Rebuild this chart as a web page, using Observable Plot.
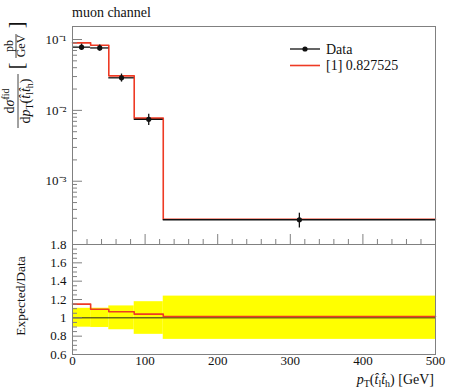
<!DOCTYPE html>
<html><head><meta charset="utf-8">
<script src="https://cdn.jsdelivr.net/npm/d3@7"></script>
<script src="https://cdn.jsdelivr.net/npm/@observablehq/plot@0.6"></script>
<style>
body{margin:0;background:#fff}
#fig{position:relative;width:450px;height:390px;font-family:"Liberation Serif",serif}
#fig svg{position:absolute;left:0;top:0}
#fig svg text{font-family:"Liberation Serif",serif}
</style>
</head><body><div id="fig"></div>
<script>
// ---- data ----
const binEdges = [0, 25, 50, 85, 125, 500];
const dataVals = [0.078, 0.076, 0.0288, 0.00747, 0.000286];
const dataErrUp = [0.104, 0.105, 0.13, 0.176, 0.237];   // relative
const dataErrDn = [0.102, 0.105, 0.13, 0.18, 0.235];    // relative
const mcVals = [0.0897, 0.0831, 0.0307, 0.00777, 0.00029];
const yTicksMain = [1e-3, 1e-2, 1e-1];
const xTicks = [0, 100, 200, 300, 400, 500];
const ratioTicks = [0.6, 0.8, 1, 1.2, 1.4, 1.6, 1.8];
const titleText = "muon channel";
const legendLabels = ["Data", "[1] 0.827525"];
const ratioLabel = "Expected/Data";

const RED = "#ee3a24";
const FRAME = "#808080";
const FONT = "Liberation Serif, serif";
const W = 450, H = 390;

const bins = binEdges.slice(0, -1).map((lo, i) => ({
  lo, hi: binEdges[i + 1], mid: (lo + binEdges[i + 1]) / 2,
  data: dataVals[i], mc: mcVals[i],
  up: dataVals[i] * (1 + dataErrUp[i]), dn: dataVals[i] * (1 - dataErrDn[i]),
  ratio: mcVals[i] / dataVals[i],
  bandLo: 1 - dataErrDn[i], bandHi: 1 + dataErrUp[i]
}));
const stepMC = bins.flatMap(b => [{x: b.lo, y: b.mc}, {x: b.hi, y: b.mc}]);
const stepRatio = bins.flatMap(b => [{x: b.lo, y: b.ratio}, {x: b.hi, y: b.ratio}]);

const minorX = d3.range(0, 501, 20).filter(v => v % 100 !== 0);
const minorLog = [];
for (let e = -4; e <= -1; e++) for (let m = 2; m <= 9; m++) minorLog.push(m * Math.pow(10, e));
const minorRatio = d3.range(0.6, 1.8001, 0.05).map(v => +v.toFixed(2)).filter(v => Math.abs(v * 5 - Math.round(v * 5)) > 1e-6);

const sup = {"-": "⁻", "0": "⁰", "1": "¹", "2": "²", "3": "³", "4": "⁴"};
const logFmt = v => "10" + String(Math.round(Math.log10(v))).split("").map(c => sup[c]).join("");
const yDomain = [Math.pow(10, -3.893), Math.pow(10, -0.8165)];

const common = {
  width: W, height: H, marginLeft: 72, marginRight: 15,
  style: {background: "none", fontFamily: FONT, fontSize: "13px", color: "#111", overflow: "visible"}
};

const ratioPlot = Plot.plot({
  ...common,
  marginTop: 244, marginBottom: 36,
  x: {domain: [0, 500], axis: null},
  y: {domain: [0.6, 1.8], axis: null},
  marks: [
    Plot.rect(bins, {x1: "lo", x2: "hi", y1: "bandLo", y2: "bandHi", fill: "#ffff00"}),
    Plot.ruleY([1], {stroke: "#222", strokeWidth: 1}),
    Plot.line(stepRatio, {x: "x", y: "y", stroke: RED, strokeWidth: 1.6}),
    Plot.axisY(ratioTicks, {anchor: "left", tickSize: -10, tickFormat: () => "", stroke: FRAME}),
    Plot.axisY(minorRatio, {anchor: "left", tickSize: -5, tickFormat: () => "", stroke: FRAME}),
    Plot.axisY(ratioTicks, {anchor: "left", tickSize: 0, tickPadding: 6, tickFormat: d => String(d), fontSize: 13, fontFamily: FONT}),
    Plot.axisX(xTicks, {anchor: "bottom", tickSize: 0, tickPadding: 1, tickFormat: d => String(d), fontSize: 13, fontFamily: FONT}),
    Plot.frame({stroke: FRAME})
  ]
});

const mainPlot = Plot.plot({
  ...common,
  marginTop: 26, marginBottom: H - 244,
  x: {domain: [0, 500], axis: null},
  y: {type: "log", domain: yDomain, axis: null},
  marks: [
    Plot.line(stepMC, {x: "x", y: "y", stroke: RED, strokeWidth: 1.6}),
    Plot.ruleY(bins, {y: "data", x1: "lo", x2: "hi", stroke: "#111", strokeWidth: 1.3}),
    Plot.ruleX(bins, {x: "mid", y1: "dn", y2: "up", stroke: "#111", strokeWidth: 1.3}),
    Plot.dot(bins, {x: "mid", y: "data", r: 2.6, fill: "#111"}),
    Plot.axisY(yTicksMain, {anchor: "left", tickSize: -10, tickFormat: () => "", stroke: FRAME}),
    Plot.axisY(minorLog.filter(v => v >= yDomain[0] && v <= yDomain[1]), {anchor: "left", tickSize: -5, tickFormat: () => "", stroke: FRAME}),
    Plot.axisY(yTicksMain, {anchor: "left", tickSize: 0, tickPadding: 6, tickFormat: logFmt, fontSize: 13, fontFamily: FONT}),
    Plot.axisX(xTicks, {anchor: "bottom", tickSize: -10, tickFormat: () => "", stroke: FRAME}),
    Plot.axisX(minorX, {anchor: "bottom", tickSize: -5, tickFormat: () => "", stroke: FRAME}),
    Plot.frame({stroke: FRAME})
  ]
});

const fig = document.getElementById("fig");
fig.appendChild(ratioPlot);
fig.appendChild(mainPlot);

// ---- overlay: title, legend, axis labels ----
const ov = d3.select(fig).append("svg").attr("width", W).attr("height", H)
  .attr("font-family", FONT).attr("fill", "#111");

ov.append("text").attr("x", 72).attr("y", 17).attr("font-size", 14).text(titleText);

// legend
const lg = ov.append("g");
lg.append("line").attr("x1", 290).attr("x2", 320).attr("y1", 49).attr("y2", 49).attr("stroke", "#111").attr("stroke-width", 1.3);
lg.append("circle").attr("cx", 305).attr("cy", 49).attr("r", 2.6).attr("fill", "#111");
lg.append("text").attr("x", 326).attr("y", 53.5).attr("font-size", 14).text(legendLabels[0]);
lg.append("line").attr("x1", 290).attr("x2", 320).attr("y1", 65.5).attr("y2", 65.5).attr("stroke", RED).attr("stroke-width", 1.6);
lg.append("text").attr("x", 326).attr("y", 70).attr("font-size", 14).text(legendLabels[1]);

// x axis label
const xl = ov.append("text").attr("x", 434).attr("y", 384).attr("text-anchor", "end").attr("font-size", 14);
xl.append("tspan").attr("font-style", "italic").text("p");
xl.append("tspan").attr("font-size", 10).attr("dy", 3).text("T");
xl.append("tspan").attr("dy", -3).text("(");
xl.append("tspan").attr("font-style", "italic").text("t̂");
xl.append("tspan").attr("font-size", 10).attr("dy", 3).text("l");
xl.append("tspan").attr("dy", -3).attr("font-style", "italic").text("t̂");
xl.append("tspan").attr("font-size", 10).attr("dy", 3).text("h");
xl.append("tspan").attr("dy", -3).text(") [GeV]");

// ratio y label
ov.append("text").attr("transform", "translate(25,296) rotate(-90)").attr("text-anchor", "middle")
  .attr("font-size", 13.5).text(ratioLabel);

// main y label (rotated fraction)
const yl = ov.append("g").attr("transform", "rotate(-90)");
const cy = 101; // centre of fraction along screen y
const num = yl.append("text").attr("x", -cy).attr("y", 14).attr("text-anchor", "middle").attr("font-size", 14);
num.append("tspan").text("d");
num.append("tspan").attr("font-style", "italic").text("σ");
num.append("tspan").attr("font-size", 10).attr("dy", -5).text("fid");
yl.append("line").attr("x1", -cy - 27).attr("x2", -cy + 27).attr("y1", 18).attr("y2", 18).attr("stroke", "#111").attr("stroke-width", 0.8);
const den = yl.append("text").attr("x", -cy).attr("y", 30).attr("text-anchor", "middle").attr("font-size", 14);
den.append("tspan").text("d");
den.append("tspan").attr("font-style", "italic").text("p");
den.append("tspan").attr("font-size", 10).attr("dy", 3).text("T");
den.append("tspan").attr("dy", -3).text("(");
den.append("tspan").attr("font-style", "italic").text("t̂");
den.append("tspan").attr("font-size", 10).attr("dy", 3).text("l");
den.append("tspan").attr("dy", -3).attr("font-style", "italic").text("t̂");
den.append("tspan").attr("font-size", 10).attr("dy", 3).text("h");
den.append("tspan").attr("dy", -3).text(")");
// [pb/GeV]
const cb = 46;
yl.append("text").attr("x", -cb - 20).attr("y", 23).attr("text-anchor", "middle").attr("font-size", 20).attr("font-weight", 300).text("[");
yl.append("text").attr("x", -cb + 21).attr("y", 23).attr("text-anchor", "middle").attr("font-size", 20).attr("font-weight", 300).text("]");
yl.append("text").attr("x", -cb).attr("y", 13).attr("text-anchor", "middle").attr("font-size", 12).text("pb");
yl.append("line").attr("x1", -cb - 12).attr("x2", -cb + 12).attr("y1", 16).attr("y2", 16).attr("stroke", "#111").attr("stroke-width", 0.8);
yl.append("text").attr("x", -cb).attr("y", 25).attr("text-anchor", "middle").attr("font-size", 12).text("GeV");
</script></body></html>
